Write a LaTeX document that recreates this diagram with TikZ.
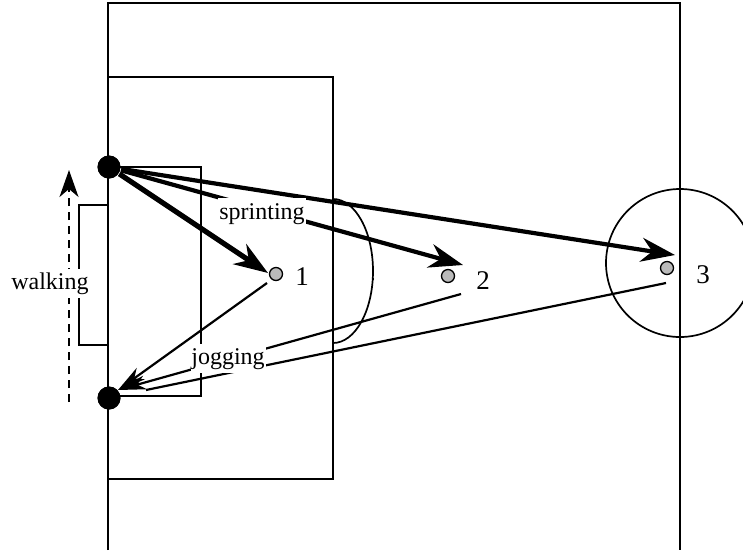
\documentclass[tikz,border=0pt]{standalone}
\usepackage{fontspec}
\setmainfont{Liberation Serif}
\usetikzlibrary{arrows.meta}
\tikzset{
  sprint/.style={line width=4.2pt,-{Stealth[length=34pt,width=24pt,inset=11pt]}},
  jog/.style={line width=2.2pt},
  jogtip/.style={jog,-{Stealth[length=28pt,width=14pt,inset=8pt]}},
  player/.style={circle,fill=black,inner sep=0pt,minimum size=23pt},
  cone/.style={circle,draw=black,fill=black!27,line width=1.3pt,inner sep=0pt,minimum size=13pt},
  runlabel/.style={fill=white,inner sep=0pt,text height=21pt,text depth=8pt,font=\fontsize{24}{24}\selectfont},
  number/.style={inner sep=0pt,font=\fontsize{27}{27}\selectfont}
}
\begin{document}
\begin{tikzpicture}[x=1pt,y=-1pt,line width=1.7pt]
\useasboundingbox (0,0) rectangle (743,550);

% pitch
\draw (108,550) -- (108,3) -- (680,3) -- (680,550);
\draw (108,77) -- (333,77) -- (333,479) -- (108,479);
\draw (108,167) -- (201,167) -- (201,396) -- (108,396);
\draw (333,199) arc[start angle=90,end angle=-90,x radius=40pt,y radius=72pt];
\draw (372,279) -- (374,279);
\draw (680,263) circle[radius=74pt];

% positions
\node[player] (top) at (109,167) {};
\node[player] (bottom) at (109,398) {};
\node[cone] (cone1) at (276,274) {};
\node[cone] (cone2) at (448,276) {};
\node[cone] (cone3) at (667,268) {};
\node[number] (num1) at (302,277) {1};
\node[number] (num2) at (483,281) {2};
\node[number] (num3) at (703,275) {3};

% ends of the runs
\coordinate (tip1) at (268,273);
\coordinate (tip2) at (463,265);
\coordinate (tip3) at (675,255);
\coordinate (back1) at (267,283);
\coordinate (back2) at (461,294);
\coordinate (back3) at (666,283);
\coordinate (home) at (118,390);
\coordinate (home3) at (146,390);

% walking
\coordinate (walkstart) at (69,402);
\coordinate (walkend) at (69,170);
\draw[dashed,dash pattern=on 8pt off 6pt,-{Stealth[length=27pt,width=19pt,inset=8pt]}] (walkstart) -- (walkend);
\draw (108,205) -- (79,205) -- (79,345) -- (108,345);

% runs
\draw[sprint,line width=5.2pt] (top) -- (tip1);
\draw[sprint] (top) -- (tip2);
\draw[sprint] (top) -- (tip3);
\draw[jogtip] (back1) -- (home);
\draw[jogtip] (back2) -- (home);
\draw[jog] (back3) -- (home3);

% labels
\node[runlabel,minimum width=79pt] (walking) at (50,283) {walking};
\node[runlabel,minimum width=88pt] (sprinting) at (262,212.5) {sprinting};
\node[runlabel,minimum width=75pt] (jogging) at (228,358) {jogging};

% players again, over the run lines
\node[player] at (top) {};
\node[player] at (bottom) {};
\end{tikzpicture}
\end{document}
